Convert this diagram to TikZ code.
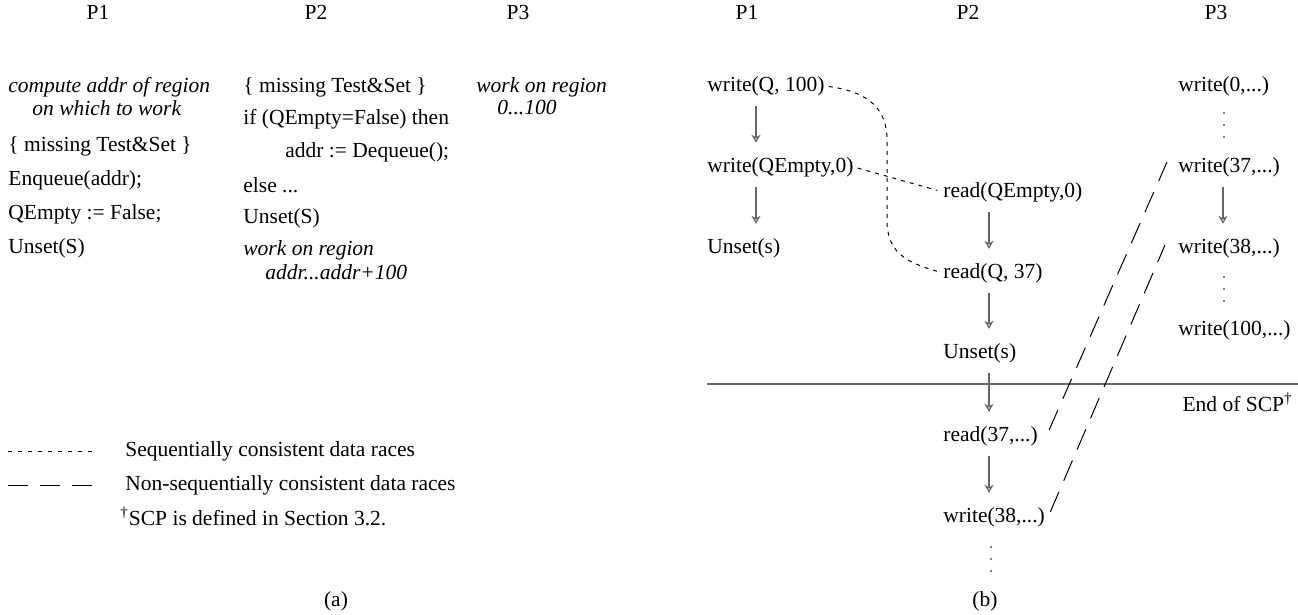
\documentclass[tikz,border=0pt]{standalone}
\usepackage{fontspec}
\setmainfont{Liberation Serif}
\usetikzlibrary{arrows.meta,calc}
\definecolor{lgray}{HTML}{666666}
\begin{document}
\begin{tikzpicture}[x=0.5pt,y=-0.5pt,
  txt/.style={anchor=west, inner sep=0pt, font=\fontsize{10.75}{13}\selectfont},
  ctr/.style={inner sep=0pt, font=\fontsize{10.75}{13}\selectfont},
  arr/.style={draw=lgray, line width=0.6pt, -{Stealth[open,length=4pt,width=4.5pt,inset=1.2pt]}, shorten <=5pt, shorten >=7pt},
  scd/.style={draw=black, line width=0.5pt, dash pattern=on 2pt off 2.5pt},
  nscd/.style={draw=black, line width=0.5pt, dash pattern=on 11pt off 6pt},
  dotsty/.style={fill=black}
]
\useasboundingbox (0,0) rectangle (1298,615);

% headers
\node[ctr] (h1) at (98,12) {P1};
\node[ctr] (h2) at (316,12) {P2};
\node[ctr] (h3) at (518,12) {P3};
\node[ctr] (h4) at (747,12) {P1};
\node[ctr] (h5) at (968,12) {P2};
\node[ctr] (h6) at (1216,12) {P3};

% (a) P1
\node[txt] (c1) at (8,87) {\itshape compute addr of region};
\node[txt] (c2) at (32,108) {\itshape on which to work};
\node[txt] (m1) at (8,146) {\{ missing Test\&Set \}};
\node[txt] (e1) at (8,180) {Enqueue(addr);};
\node[txt] (q1) at (8,214) {QEmpty := False;};
\node[txt] (u1) at (8,248) {Unset(S)};
% (a) P2
\node[txt] (m2) at (243,87) {\{ missing Test\&Set \}};
\node[txt] (if2) at (243,119) {if (QEmpty=False) then};
\node[txt] (dq2) at (285,152) {addr := Dequeue();};
\node[txt] (el2) at (243,185) {else ...};
\node[txt] (u2) at (243,218) {Unset(S)};
\node[txt] (wr2) at (243,250) {\itshape work on region};
\node[txt] (ad2) at (265,272) {\itshape addr...addr+100};
% (a) P3
\node[txt] (wr3) at (476,87) {\itshape work on region};
\node[txt] (r3) at (497,108) {\itshape 0...100};

% legend
\coordinate (l1a) at (8,451); \coordinate (l1b) at (97,451);
\coordinate (l2a) at (8,485); \coordinate (l2b) at (94,485);
\draw[black, line width=0.45pt, dash pattern=on 2pt off 3pt] (l1a) -- (l1b);
\draw[black, line width=0.45pt, dash pattern=on 10pt off 6pt] (l2a) -- (l2b);
\node[txt] (lt1) at (125,451) {Sequentially consistent data races};
\node[txt] (lt2) at (125,485) {Non-sequentially consistent data races};
\node[txt] (fn) at (120,516) {\textsuperscript{†}SCP is defined in Section 3.2.};
\node[ctr] (capa) at (336,601) {(a)};

% (b) P1
\node[txt] (wq) at (707,86) {write(Q, 100)};
\node[txt] (wqe) at (707,167) {write(QEmpty,0)};
\node[txt] (us1) at (707,248) {Unset(s)};
% (b) P2
\node[txt] (rqe) at (943,192) {read(QEmpty,0)};
\node[txt] (rq) at (943,273) {read(Q, 37)};
\node[txt] (us2) at (943,353) {Unset(s)};
\node[txt] (r37) at (943,436) {read(37,...)};
\node[txt] (w38a) at (943,517) {write(38,...)};
% (b) P3
\node[txt] (w0) at (1178,86) {write(0,...)};
\node[txt] (w37) at (1178,167) {write(37,...)};
\node[txt] (w38) at (1178,248) {write(38,...)};
\node[txt] (w100) at (1178,330) {write(100,...)};
\node[ctr] (capb) at (985,601) {(b)};

% end of SCP
\coordinate (hl1) at (707,384); \coordinate (hl2) at (1298,384);
\draw[lgray, line width=0.6pt] (hl1) -- (hl2);
\node[anchor=base east, inner sep=0pt, font=\fontsize{10.75}{13}\selectfont] (eos) at (1293,411) {End of SCP\textsuperscript{†}};

% column x positions
\coordinate (x1) at (756,0);
\coordinate (x2) at (989,0);
\coordinate (x3) at (1223,0);

\draw[arr] (wq.south -| x1) -- (wqe.north -| x1);
\draw[arr] (wqe.south -| x1) -- (us1.north -| x1);
\draw[arr] (rqe.south -| x2) -- (rq.north -| x2);
\draw[arr] (rq.south -| x2) -- (us2.north -| x2);
\draw[arr] (us2.south -| x2) -- (r37.north -| x2);
\draw[arr] (r37.south -| x2) -- (w38a.north -| x2);
\draw[arr] (w37.south -| x3) -- (w38.north -| x3);

% vertical dots
\foreach \y in {113,125,137} \fill (1224,\y) circle (0.45pt);
\foreach \y in {277,289,301} \fill (1224,\y) circle (0.45pt);
\foreach \y in {547,559,571} \fill (991,\y) circle (0.45pt);

% sequentially consistent races
\draw[scd, shorten <=2pt, shorten >=3pt] (wq.east) .. controls (870,92) and (887,110) .. (887,140) -- (887,220) .. controls (887,252) and (905,262) .. (rq.west);
\draw[scd, shorten <=2pt, shorten >=3pt] (wqe.east) -- (rqe.west);

% non-sequentially consistent races
\draw[nscd] ($(r37.east)+(11,-6)$) -- ($(w37.west)+(-11,-5)$);
\draw[nscd] ($(w38a.east)+(5,-5)$) -- ($(w38.west)+(-13,-3)$);
\end{tikzpicture}
\end{document}
